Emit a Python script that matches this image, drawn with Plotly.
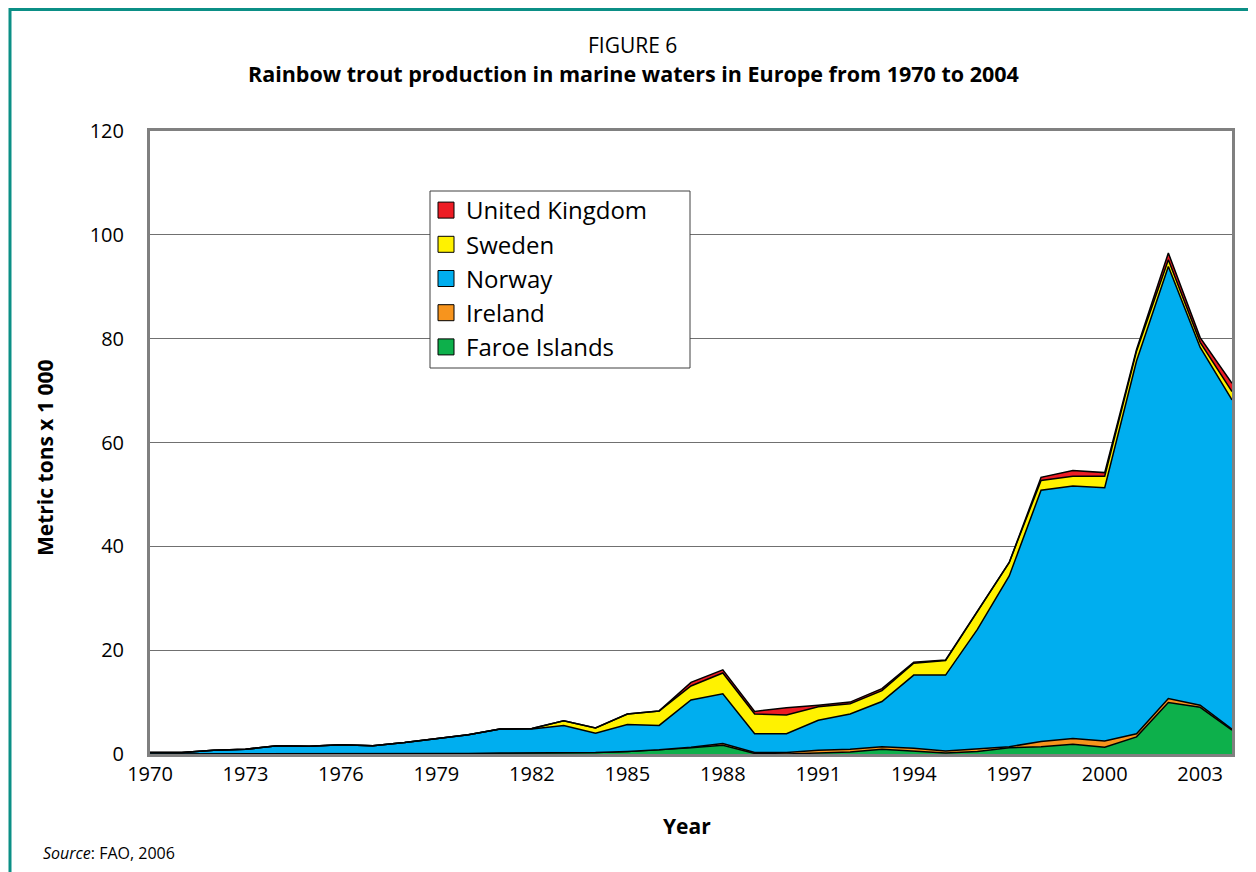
import plotly.graph_objects as go

years = list(range(1970, 2005))

faroe = [0, 0, 0, 0, 0, 0, 0, 0, 0, 0,
         0.1, 0.2, 0.2, 0.2, 0.3, 0.5, 0.8, 1.2, 1.7, 0.1,
         0.0, 0.2, 0.4, 0.9, 0.6, 0.2, 0.5, 1.2, 1.4, 1.9,
         1.3, 3.3, 9.9, 9.0, 4.6]
ireland = [0, 0, 0, 0, 0, 0, 0, 0, 0, 0,
           0, 0, 0, 0, 0, 0, 0, 0.1, 0.3, 0.2,
           0.3, 0.5, 0.5, 0.5, 0.5, 0.4, 0.5, 0.2, 1.0, 1.1,
           1.2, 0.6, 0.8, 0.4, 0.2]
norway = [0.3, 0.3, 0.7, 0.9, 1.6, 1.5, 1.8, 1.6, 2.2, 2.9,
          3.6, 4.6, 4.6, 5.3, 3.7, 5.2, 4.7, 9.1, 9.6, 3.6,
          3.6, 5.8, 6.8, 8.7, 14.1, 14.6, 23.0, 32.9, 48.4, 48.6,
          48.8, 71.8, 83.2, 68.9, 63.4]
sweden = [0, 0, 0, 0, 0, 0, 0, 0, 0, 0,
          0, 0, 0.1, 0.9, 1.0, 2.0, 2.8, 2.7, 4.0, 3.8,
          3.6, 2.6, 2.0, 2.1, 2.3, 2.8, 3.5, 2.6, 1.9, 1.9,
          2.2, 1.9, 1.3, 1.0, 1.6]
uk = [0, 0, 0, 0, 0, 0, 0, 0, 0, 0,
      0, 0, 0, 0, 0, 0, 0, 0.7, 0.6, 0.5,
      1.4, 0.3, 0.3, 0.4, 0.2, 0.1, 0, 0, 0.6, 1.1,
      0.7, 0.3, 1.3, 0.9, 1.6]

series = [
    ("Faroe Islands", faroe, "#0DB04B"),
    ("Ireland", ireland, "#F7941D"),
    ("Norway", norway, "#00AEEF"),
    ("Sweden", sweden, "#FFF200"),
    ("United Kingdom", uk, "#ED1C24"),
]

FONT = "Open Sans"

fig = go.Figure()
for name, vals, col in series:
    fig.add_trace(go.Scatter(x=years, y=vals, name=name, stackgroup="one",
                             mode="lines", fillcolor=col, showlegend=False,
                             line=dict(color="black", width=1.5)))
# square legend keys
for name, vals, col in series:
    fig.add_trace(go.Scatter(x=[None], y=[None], name=name, mode="markers",
                             marker=dict(symbol="square", size=17, color=col,
                                         line=dict(color="black", width=1))))

# page has an 8px body margin; plot area on screen: x 150..1232, y 131..754
def px(x):
    return (x - 150) / 1082.0

def py(y):
    return (754 - y) / 623.0

fig.update_layout(
    width=1248, height=864,
    margin=dict(l=142, r=24, t=123, b=118),
    paper_bgcolor="white", plot_bgcolor="white",
    font=dict(family=FONT, color="black"),
    showlegend=True,
    legend=dict(x=px(426), y=py(188), xanchor="left", yanchor="top",
                traceorder="reversed", bgcolor="rgba(0,0,0,0)",
                borderwidth=0, font=dict(size=24, family=FONT),
                itemwidth=30, tracegroupgap=0),
    xaxis=dict(range=[1970, 2004], tickvals=list(range(1970, 2004, 3)),
               showgrid=False, showline=True, mirror=True,
               linecolor="#808080", linewidth=3, ticks="",
               tickfont=dict(size=20), zeroline=False),
    yaxis=dict(range=[0, 120], dtick=20, showgrid=True,
               gridcolor="#707070", gridwidth=1,
               showline=True, mirror=True, linecolor="#808080",
               linewidth=3, ticks="", tickfont=dict(size=20),
               zeroline=False, ticklabelstandoff=19),
)

# legend box
fig.add_shape(type="rect", xref="paper", yref="paper", layer="above",
              x0=px(430), x1=px(690), y0=py(191), y1=py(368),
              fillcolor="white", line=dict(color="#404040", width=1))

def note(text, x, y, size, **kw):
    fig.add_annotation(text=text, x=px(x), y=py(y), xref="paper", yref="paper",
                       showarrow=False, yanchor="middle",
                       font=dict(size=size), **kw)

note("FIGURE 6", 632, 45, 21, xanchor="center")
note("<b>Rainbow trout production in marine waters in Europe from 1970 to 2004</b>",
     633, 74, 21.5, xanchor="center")
note("<b>Metric tons x 1 000</b>", 45, 458, 21, xanchor="center", textangle=-90)
note("<b>Year</b>", 687, 826, 21, xanchor="center")
note("<i>Source</i>: FAO, 2006", 41, 853, 16, xanchor="left")

# teal frame (top and left)
fig.add_shape(type="line", xref="paper", yref="paper",
              x0=px(9), x1=px(1256), y0=py(9.5), y1=py(9.5),
              line=dict(color="#0B8F86", width=3))
fig.add_shape(type="line", xref="paper", yref="paper",
              x0=px(10), x1=px(10), y0=py(8), y1=py(872),
              line=dict(color="#0B8F86", width=3))

fig.write_html("out.html")
